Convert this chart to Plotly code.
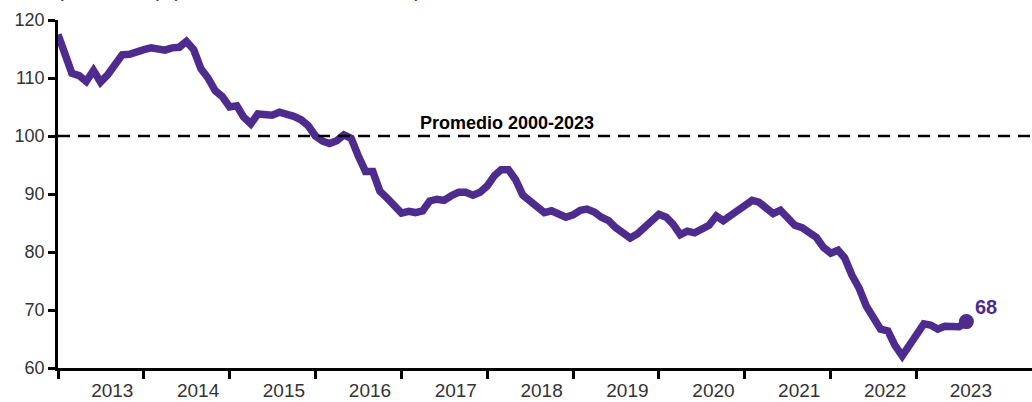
import pandas as pd
import plotly.graph_objects as go

# Monthly index, Jan 2013 - Aug 2023
months = pd.date_range("2013-01-01", periods=128, freq="MS")
values = [
    117.5, 114.0, 110.8, 110.4, 109.4, 111.3, 109.3, 110.6, 112.2, 114.0, 114.1, 114.6,
    114.9, 115.2, 114.9, 114.8, 115.2, 115.3, 116.3, 114.9, 111.6, 110.0, 107.8, 106.8,
    105.0, 105.2, 103.3, 102.1, 103.8, 103.7, 103.6, 104.1, 103.9, 103.4, 102.8, 101.8,
    100.0, 99.1, 98.7, 99.2, 100.2, 99.6, 96.6, 93.9, 93.9, 90.5, 89.3, 88.0,
    86.7, 87.0, 86.8, 87.1, 88.8, 89.1, 88.9, 89.7, 90.3, 90.3, 89.8, 90.3,
    91.4, 93.2, 94.2, 94.2, 92.5, 89.8, 88.9, 87.8, 86.8, 87.1, 86.5, 86.0,
    86.4, 87.2, 87.4, 86.9, 86.0, 85.4, 84.2, 83.2, 82.4, 83.1, 84.2, 85.5,
    86.5, 86.0, 84.8, 83.0, 83.6, 83.3, 83.9, 84.6, 86.2, 85.4, 86.3, 87.2,
    88.2, 88.9, 88.6, 87.5, 86.6, 87.2, 85.9, 84.6, 84.2, 83.4, 82.5, 80.8,
    79.8, 80.3, 79.0, 76.0, 73.8, 70.7, 68.4, 66.7, 66.4, 63.9, 62.1, 63.9,
    66.0, 67.6, 67.4, 66.7, 67.2, 67.3, 67.1, 68.0,
]
average_level = 100
average_label = "Promedio 2000-2023"
years = list(range(2013, 2024))
y_ticks = [60, 70, 80, 90, 100, 110, 120]

PURPLE = "#4E2C8E"
FONT = "Liberation Sans, Arial, sans-serif"
TICK_COLOR = "#333333"

fig = go.Figure()

fig.add_trace(go.Scatter(
    x=months, y=values, mode="lines",
    line=dict(color=PURPLE, width=7.5),
    hoverinfo="skip",
))
fig.add_trace(go.Scatter(
    x=[months[-1]], y=[values[-1]], mode="markers",
    marker=dict(size=15, color=PURPLE),
    hoverinfo="skip",
))

# Long-run average reference line
fig.add_shape(
    type="line", xref="paper", x0=0, x1=1, yref="y", y0=average_level, y1=average_level,
    line=dict(color="black", width=2.5, dash="12px,8px"),
)
fig.add_annotation(
    xref="paper", x=0.461, yref="y", y=average_level,
    text=f"<b>{average_label}</b>", showarrow=False,
    xanchor="center", yanchor="bottom", yshift=1,
    font=dict(family=FONT, size=18, color="black"),
)

# Latest value label
fig.add_annotation(
    x=months[-1], y=values[-1], text=f"<b>{values[-1]:.0f}</b>",
    showarrow=False, xanchor="left", yanchor="bottom", xshift=7, yshift=2,
    font=dict(family=FONT, size=20, color=PURPLE),
)

# Subtitle line sitting above the plot
fig.add_annotation(
    xref="paper", x=-0.003, yref="paper", y=1.049,
    text="(índice real), promedio 2000-2023 = 100)", showarrow=False,
    xanchor="left", yanchor="bottom",
    font=dict(family=FONT, size=20, color=TICK_COLOR),
)

fig.update_layout(
    width=1032, height=402,
    margin=dict(l=58, r=0, t=20, b=34),
    plot_bgcolor="white", paper_bgcolor="white",
    showlegend=False,
    xaxis=dict(
        range=["2013-01-01", "2024-05-06"],
        automargin=False,
        showline=True, linecolor="black", linewidth=2.5,
        showgrid=False, zeroline=False,
        tickvals=[f"{y}-08-20" for y in years],
        ticktext=[str(y) for y in years],
        ticks="", ticklabelstandoff=3,
        tickfont=dict(family=FONT, size=19, color=TICK_COLOR),
        minor=dict(ticks="outside", tickmode="array",
                   tickvals=[f"{y}-01-01" for y in years],
                   ticklen=8, tickwidth=2.5, tickcolor="black", showgrid=False),
    ),
    yaxis=dict(
        range=[60, 120],
        automargin=False,
        tickvals=y_ticks,
        showline=True, linecolor="black", linewidth=2.5,
        showgrid=False, zeroline=False,
        ticks="outside", ticklen=7, tickwidth=2.5, tickcolor="black",
        tickfont=dict(family=FONT, size=18, color=TICK_COLOR),
    ),
)

fig.write_html("out.html", config={"displayModeBar": False})
